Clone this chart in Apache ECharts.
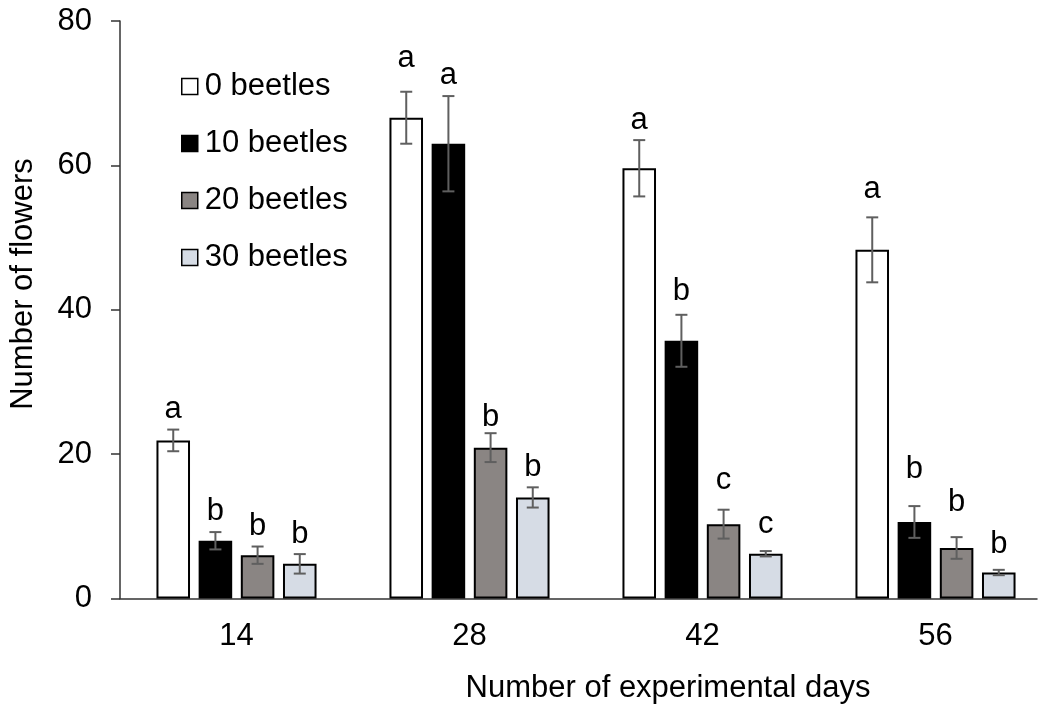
<!DOCTYPE html>
<html>
<head>
<meta charset="utf-8">
<script src="https://cdn.jsdelivr.net/npm/echarts@6/dist/echarts.min.js"></script>
<style>
  html, body { margin: 0; padding: 0; background: #fff; }
  #chart { width: 1052px; height: 708px; }
</style>
</head>
<body>
<div id="chart"></div>
<script>
// days on the x axis
const days = ['14', '28', '42', '56'];
const groupNames = ['0 beetles', '10 beetles', '20 beetles', '30 beetles'];

// mean number of flowers
const beetles0 = [21.9, 66.6, 59.6, 48.3];
const beetles10 = [8.0, 63.0, 35.7, 10.6];
const beetles20 = [6.0, 20.9, 10.3, 7.0];
const beetles30 = [4.8, 14.0, 6.2, 3.6];

// +/- error
const err0 = [1.5, 3.6, 3.9, 4.5];
const err10 = [1.2, 6.6, 3.6, 2.2];
const err20 = [1.2, 2.0, 2.0, 1.5];
const err30 = [1.35, 1.4, 0.37, 0.37];

// significance letters and the height (flowers) where their baseline sits
const letters0 = ['a', 'a', 'a', 'a'];
const letters10 = ['b', 'a', 'b', 'b'];
const letters20 = ['b', 'b', 'c', 'b'];
const letters30 = ['b', 'b', 'c', 'b'];
const letterAt0 = [24.6, 73.3, 64.7, 55.1];
const letterAt10 = [10.6, 70.9, 41.0, 16.3];
const letterAt20 = [8.5, 23.5, 14.8, 11.8];
const letterAt30 = [7.4, 16.6, 8.8, 6.0];

const yTicks = [0, 20, 40, 60, 80];

const FONT = '"Liberation Sans", Arial, sans-serif';
const FS = 31;
const BAR_W = 0.144;
const BAR_GAP = 0.257;
const fills = ['#ffffff', '#000000', '#8a8583', '#d6dce5'];

const means = [beetles0, beetles10, beetles20, beetles30];
const errs = [err0, err10, err20, err30];
const letters = [letters0, letters10, letters20, letters30];
const letterAt = [letterAt0, letterAt10, letterAt20, letterAt30];

// one row per bar: [category, series, mean, err, letterPos]
const errRows = [];
const errLetters = [];
for (let s = 0; s < 4; s++) {
  for (let c = 0; c < days.length; c++) {
    errRows.push([c, s, means[s][c], errs[s][c], letterAt[s][c]]);
    errLetters.push(letters[s][c]);
  }
}

function renderErr(params, api) {
  const c = api.value(0), s = api.value(1), v = api.value(2), e = api.value(3), lp = api.value(4);
  const band = api.size([1, 0])[0];
  const bw = band * BAR_W;
  const x = api.coord([c, 0])[0] + (s - 1.5) * bw * (1 + BAR_GAP);
  const yTop = api.coord([c, v + e])[1];
  const yBot = api.coord([c, v - e])[1];
  const yTxt = api.coord([c, lp])[1];
  const ln = { stroke: '#5f5f5f', lineWidth: 2 };
  return {
    type: 'group',
    children: [
      { type: 'line', shape: { x1: x, y1: yTop, x2: x, y2: yBot }, style: ln },
      { type: 'line', shape: { x1: x - 6, y1: yTop, x2: x + 6, y2: yTop }, style: ln },
      { type: 'line', shape: { x1: x - 6, y1: yBot, x2: x + 6, y2: yBot }, style: ln },
      {
        type: 'text', x: x, y: yTxt - 11,
        style: {
          text: errLetters[params.dataIndex], fill: '#000',
          font: FS + 'px ' + FONT,
          align: 'center', verticalAlign: 'middle',
          textAlign: 'center', textVerticalAlign: 'middle'
        }
      }
    ]
  };
}

const chart = echarts.init(document.getElementById('chart'));

const barSeries = groupNames.map(function (name, i) {
  return {
    name: name,
    type: 'bar',
    data: means[i],
    barWidth: (BAR_W * 100) + '%',
    barGap: (BAR_GAP * 100) + '%',
    itemStyle: { color: fills[i], borderColor: '#000', borderWidth: 2 },
    emphasis: { disabled: true },
    animation: false
  };
});

const option = {
  animation: false,
  backgroundColor: '#fff',
  textStyle: { fontFamily: FONT },
  grid: [
    { left: 120, top: 21, width: 943, height: 577.5 },
    { left: 120, top: 21, width: 917, height: 577.5 }
  ],
  legend: {
    orient: 'vertical',
    left: 181,
    top: 71,
    padding: 0,
    itemWidth: 16,
    itemHeight: 16,
    itemGap: 26,
    icon: 'rect',
    selectedMode: false,
    data: groupNames,
    itemStyle: { borderColor: '#000', borderWidth: 1.5 },
    textStyle: { fontSize: FS, color: '#000', fontFamily: FONT, padding: [0, 0, 0, 2] }
  },
  xAxis: [
    {
      type: 'category',
      data: days,
      gridIndex: 0,
      axisLine: { show: false },
      axisTick: { show: false },
      axisLabel: { fontSize: FS, color: '#000', margin: 22, fontFamily: FONT },
      splitLine: { show: false }
    },
    {
      type: 'value',
      gridIndex: 1,
      min: 0, max: 1,
      axisLine: { show: true, onZero: false, lineStyle: { color: '#333', width: 1.5 } },
      axisTick: { show: false },
      axisLabel: { show: false },
      splitLine: { show: false }
    }
  ],
  yAxis: [
    {
      type: 'value',
      gridIndex: 0,
      min: yTicks[0],
      max: yTicks[yTicks.length - 1],
      interval: yTicks[1] - yTicks[0],
      axisLine: { show: true, lineStyle: { color: '#333', width: 1.5 } },
      axisTick: { show: true, length: 9, lineStyle: { color: '#333', width: 1.5 } },
      axisLabel: { fontSize: FS, color: '#000', margin: 28, fontFamily: FONT },
      splitLine: { show: false }
    },
    { type: 'value', gridIndex: 1, min: 0, max: 1, show: false }
  ],
  graphic: [
    {
      type: 'text', x: 23, y: 284, rotation: Math.PI / 2,
      style: {
        text: 'Number of flowers', fill: '#000', font: FS + 'px ' + FONT,
        align: 'center', verticalAlign: 'middle', textAlign: 'center', textVerticalAlign: 'middle'
      }
    },
    {
      type: 'text', x: 668, y: 688,
      style: {
        text: 'Number of experimental days', fill: '#000', font: FS + 'px ' + FONT,
        align: 'center', verticalAlign: 'middle', textAlign: 'center', textVerticalAlign: 'middle'
      }
    }
  ],
  series: barSeries.concat([
    {
      type: 'custom',
      renderItem: renderErr,
      data: errRows,
      encode: { x: 0, y: 2 },
      z: 10,
      silent: true,
      clip: false
    }
  ])
};

chart.setOption(option);
</script>
</body>
</html>
